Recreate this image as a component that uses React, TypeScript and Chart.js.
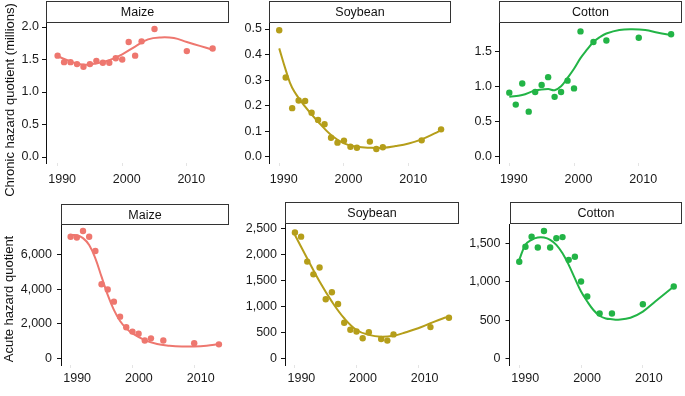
import React, { useEffect, useRef } from "react";
import { Chart, registerables } from "chart.js";
Chart.register(...registerables);

// ---------- data ----------
const maizeYears = [1990, 1991, 1992, 1993, 1994, 1995, 1996, 1997, 1998, 1999, 2000, 2001, 2002, 2003, 2005, 2010, 2014];
const soyYears = [1990, 1991, 1992, 1993, 1994, 1995, 1996, 1997, 1998, 1999, 2000, 2001, 2002, 2004, 2005, 2006, 2012, 2015];
const cottonYears = [1990, 1991, 1992, 1993, 1994, 1995, 1996, 1997, 1998, 1999, 2000, 2001, 2003, 2005, 2010, 2015];

// Chronic hazard quotient (millions)
const maizeChronic = [1.56, 1.46, 1.46, 1.43, 1.39, 1.43, 1.48, 1.45, 1.45, 1.52, 1.5, 1.77, 1.56, 1.78, 1.97, 1.63, 1.67];
const soyChronic = [0.495, 0.31, 0.19, 0.22, 0.218, 0.172, 0.144, 0.127, 0.074, 0.055, 0.063, 0.039, 0.035, 0.059, 0.03, 0.037, 0.064, 0.107];
const cottonChronic = [0.91, 0.74, 1.04, 0.64, 0.92, 1.02, 1.13, 0.85, 0.92, 1.08, 0.97, 1.78, 1.63, 1.65, 1.69, 1.74];

// Acute hazard quotient
const maizeAcute = [7060, 7020, 7390, 7060, 6230, 4300, 4000, 3290, 2420, 1800, 1550, 1430, 1030, 1160, 1030, 870, 810];
const soyAcute = [2420, 2340, 1860, 1615, 1745, 1135, 1270, 1045, 685, 550, 515, 385, 500, 370, 340, 460, 600, 780];
const cottonAcute = [1260, 1455, 1585, 1445, 1660, 1445, 1565, 1580, 1285, 1325, 1005, 810, 590, 590, 710, 940];

// smoothed trend curves
const maizeChronicFitYears = [1990, 1992, 1994, 1996, 1998, 2000, 2002, 2004, 2006, 2008, 2010, 2012, 2014];
const maizeChronicFit = [1.55, 1.47, 1.42, 1.44, 1.49, 1.58, 1.7, 1.81, 1.84, 1.83, 1.77, 1.71, 1.65];
const soyChronicFitYears = [1990, 1991, 1992, 1994, 1996, 1998, 2000, 2002, 2004, 2006, 2008, 2010, 2012, 2014, 2015];
const soyChronicFit = [0.424, 0.34, 0.27, 0.196, 0.137, 0.085, 0.052, 0.039, 0.035, 0.035, 0.042, 0.052, 0.068, 0.091, 0.104];
const cottonChronicFitYears = [1990, 1992, 1994, 1996, 1997, 1998, 1999, 2000, 2001, 2002, 2003, 2004, 2005, 2007, 2009, 2011, 2013, 2015];
const cottonChronicFit = [0.85, 0.875, 0.94, 0.96, 0.945, 1.0, 1.12, 1.25, 1.4, 1.52, 1.63, 1.7, 1.75, 1.8, 1.81, 1.8, 1.76, 1.73];

const maizeAcuteFitYears = [1990, 1991, 1992, 1993, 1994, 1995, 1996, 1997, 1998, 1999, 2000, 2002, 2004, 2006, 2008, 2010, 2012, 2014];
const maizeAcuteFit = [7150, 7150, 6980, 6580, 5800, 4740, 3680, 2810, 2170, 1740, 1450, 1060, 830, 735, 690, 690, 735, 830];
const soyAcuteFitYears = [1990, 1992, 1994, 1996, 1998, 2000, 2002, 2004, 2006, 2008, 2010, 2012, 2014, 2015];
const soyAcuteFit = [2370, 1920, 1475, 1090, 770, 545, 450, 415, 435, 500, 577, 673, 765, 800];
const cottonAcuteFitYears = [1990, 1991, 1992, 1993, 1994, 1995, 1996, 1997, 1998, 1999, 2000, 2001, 2002, 2003, 2004, 2005, 2006, 2008, 2010, 2012, 2014, 2015];
const cottonAcuteFit = [1285, 1480, 1545, 1575, 1575, 1545, 1480, 1370, 1220, 1045, 875, 745, 635, 560, 525, 515, 510, 535, 615, 745, 875, 940];

const xTicks = [1990, 2000, 2010];
const chronicMaizeTicks = [0, 0.5, 1.0, 1.5, 2.0];
const chronicSoyTicks = [0, 0.1, 0.2, 0.3, 0.4, 0.5];
const chronicCottonTicks = [0, 0.5, 1.0, 1.5];
const acuteMaizeTicks = [0, 2000, 4000, 6000];
const acuteSoyTicks = [0, 500, 1000, 1500, 2000, 2500];
const acuteCottonTicks = [0, 500, 1000, 1500];

const crops = ["Maize", "Soybean", "Cotton"];
const chronicTitle = "Chronic hazard quotient (millions)";
const acuteTitle = "Acute hazard quotient";

const MAIZE = "#EE776F";
const SOY = "#B59E1A";
const COTTON = "#22B446";
const FONT = '"Liberation Sans", Arial, Helvetica, sans-serif';

type Panel = {
  label: string;
  color: string;
  years: number[];
  values: number[];
  fitYears: number[];
  fit: number[];
  yTicks: number[];
  fmt: (v: number) => string;
  // layout (page px)
  cx: number; cy: number; cw: number; ch: number;
  l: number; r: number; t: number; b: number; stripTop: number;
  xMin: number; xMax: number; yMin: number; yMax: number;
  yPad: number; xPad: number; labelOffset: number;
};

const f1 = (v: number) => v.toFixed(1);
const fc = (v: number) => v.toLocaleString("en-US");

const panels: Panel[] = [
  { label: crops[0], color: MAIZE, years: maizeYears, values: maizeChronic, fitYears: maizeChronicFitYears, fit: maizeChronicFit, yTicks: chronicMaizeTicks, fmt: f1,
    cx: 0, cy: 0, cw: 232, ch: 195, l: 46, r: 230, t: 23, b: 163, stripTop: 0.5,
    xMin: 1988.2, xMax: 2016.5, yMin: -0.092, yMax: 2.062, yPad: 3, xPad: 6, labelOffset: 4.5 },
  { label: crops[1], color: SOY, years: soyYears, values: soyChronic, fitYears: soyChronicFitYears, fit: soyChronicFit, yTicks: chronicSoyTicks, fmt: f1,
    cx: 236, cy: 0, cw: 218, ch: 195, l: 269, r: 451.5, t: 23, b: 163, stripTop: 0.5,
    xMin: 1988.42, xMax: 2016.5, yMin: -0.0247, yMax: 0.5235, yPad: 3, xPad: 6, labelOffset: 4.5 },
  { label: crops[2], color: COTTON, years: cottonYears, values: cottonChronic, fitYears: cottonChronicFitYears, fit: cottonChronicFit, yTicks: chronicCottonTicks, fmt: f1,
    cx: 462, cy: 0, cw: 223, ch: 195, l: 499, r: 682, t: 23, b: 163, stripTop: 0.5,
    xMin: 1988.41, xMax: 2016.65, yMin: -0.0895, yMax: 1.899, yPad: 3, xPad: 6, labelOffset: 4.5 },
  { label: crops[0], color: MAIZE, years: maizeYears, values: maizeAcute, fitYears: maizeAcuteFitYears, fit: maizeAcuteFit, yTicks: acuteMaizeTicks, fmt: fc,
    cx: 0, cy: 198, cw: 232, ch: 198, l: 61, r: 230, t: 225, b: 365, stripTop: 204,
    xMin: 1988.44, xMax: 2015.6, yMin: -389, yMax: 7742, yPad: 5, xPad: 3, labelOffset: 6.5 },
  { label: crops[1], color: SOY, years: soyYears, values: soyAcute, fitYears: soyAcuteFitYears, fit: soyAcuteFit, yTicks: acuteSoyTicks, fmt: fc,
    cx: 236, cy: 198, cw: 226, ch: 198, l: 285, r: 460, t: 224, b: 365, stripTop: 202,
    xMin: 1988.39, xMax: 2016.6, yMin: -129, yMax: 2583, yPad: 4, xPad: 3, labelOffset: 6.5 },
  { label: crops[2], color: COTTON, years: cottonYears, values: cottonAcute, fitYears: cottonAcuteFitYears, fit: cottonAcuteFit, yTicks: acuteCottonTicks, fmt: fc,
    cx: 464, cy: 198, cw: 221, ch: 198, l: 509.5, r: 682.5, t: 224, b: 365, stripTop: 202,
    xMin: 1988.42, xMax: 2016.3, yMin: -78, yMax: 1750, yPad: 5, xPad: 3, labelOffset: 6 },
];

const stripPlugin = {
  id: "strip",
  afterDraw(chart: any, _args: any, opts: any) {
    const { ctx, chartArea } = chart;
    const top = opts.top;
    const x0 = Math.round(chartArea.left) + 0.5;
    const x1 = Math.round(chartArea.right) - 0.5;
    const y0 = Math.round(top) + 0.5;
    const y1 = Math.round(chartArea.top) - 0.5;
    ctx.save();
    ctx.fillStyle = "#ffffff";
    ctx.fillRect(x0, y0, x1 - x0, y1 - y0);
    ctx.strokeStyle = "#333333";
    ctx.lineWidth = 1;
    ctx.strokeRect(x0, y0, x1 - x0, y1 - y0);
    ctx.fillStyle = "#111111";
    ctx.font = `12.5px ${FONT}`;
    ctx.textAlign = "center";
    ctx.textBaseline = "middle";
    ctx.fillText(opts.label, (x0 + x1) / 2, (y0 + y1) / 2 + 1);
    ctx.restore();
  },
};

function PanelChart({ p }: { p: Panel }) {
  const ref = useRef<HTMLCanvasElement | null>(null);
  useEffect(() => {
    if (!ref.current) return;
    const yW = p.l - p.cx;
    const xH = p.cy + p.ch - p.b;
    const chart = new Chart(ref.current, {
      type: "scatter",
      data: {
        datasets: [
          {
            label: "fit",
            data: p.fitYears.map((x, i) => ({ x, y: p.fit[i] })),
            showLine: true,
            borderColor: p.color,
            borderWidth: 2,
            pointRadius: 0,
            tension: 0.4,
            fill: false,
          } as any,
          {
            label: "obs",
            data: p.years.map((x, i) => ({ x, y: p.values[i] })),
            backgroundColor: p.color,
            borderWidth: 0,
            pointRadius: 3.2,
            pointHoverRadius: 3.2,
          },
        ],
      },
      options: {
        responsive: false,
        animation: false,
        events: [],
        layout: { padding: { top: p.t - p.cy, right: p.cx + p.cw - p.r, left: 0, bottom: 0 } },
        plugins: {
          legend: { display: false },
          tooltip: { enabled: false },
          strip: { label: p.label, top: p.stripTop - p.cy },
        } as any,
        scales: {
          x: {
            type: "linear",
            min: p.xMin,
            max: p.xMax,
            afterBuildTicks: (axis: any) => {
              axis.ticks = xTicks.map((v) => ({ value: v }));
            },
            afterFit: (s: any) => {
              s.height = xH;
            },
            border: { display: false },
            grid: { display: true, drawOnChartArea: false, drawTicks: true, tickLength: 3, tickColor: "#e4e4e4", color: "#e4e4e4" },
            ticks: {
              autoSkip: false,
              maxRotation: 0,
              minRotation: 0,
              padding: p.xPad,
              labelOffset: p.labelOffset,
              color: "#1a1a1a",
              font: { family: FONT, size: 12.5 },
              callback: (v: any) => String(v),
            },
          },
          y: {
            type: "linear",
            min: p.yMin,
            max: p.yMax,
            afterBuildTicks: (axis: any) => {
              axis.ticks = p.yTicks.map((v) => ({ value: v }));
            },
            afterFit: (s: any) => {
              s.width = yW;
            },
            border: { display: true, color: "#111111", width: 1 },
            grid: { display: true, drawOnChartArea: false, drawTicks: true, tickLength: 4, color: "#111111", tickColor: "#111111" },
            ticks: {
              padding: p.yPad,
              color: "#1a1a1a",
              font: { family: FONT, size: 12.5 },
              callback: (v: any) => p.fmt(Number(v)),
            },
          },
        },
      },
      plugins: [stripPlugin as any],
    });
    return () => chart.destroy();
  }, [p]);
  return (
    <canvas
      ref={ref}
      width={p.cw}
      height={p.ch}
      style={{ position: "absolute", left: p.cx, top: p.cy, width: p.cw, height: p.ch }}
    />
  );
}

function YTitle({ text, cx, cy, w }: { text: string; cx: number; cy: number; w: number }) {
  const h = 16;
  return (
    <div
      style={{
        position: "absolute",
        left: cx - w / 2,
        top: cy - h / 2,
        width: w,
        height: h,
        lineHeight: `${h}px`,
        textAlign: "center",
        transform: "rotate(-90deg)",
        fontFamily: FONT,
        fontSize: 13,
        color: "#111",
        whiteSpace: "nowrap",
      }}
    >
      {text}
    </div>
  );
}

export default function App() {
  useEffect(() => {
    document.body.style.margin = "0";
  }, []);
  return (
    <div style={{ position: "fixed", left: 0, top: 0, width: 685, height: 396, background: "#fff", overflow: "hidden" }}>
      {panels.map((p, i) => (
        <PanelChart key={i} p={p} />
      ))}
      <YTitle text={chronicTitle} cx={10} cy={100} w={200} />
      <YTitle text={acuteTitle} cx={8.5} cy={298.5} w={150} />
    </div>
  );
}
